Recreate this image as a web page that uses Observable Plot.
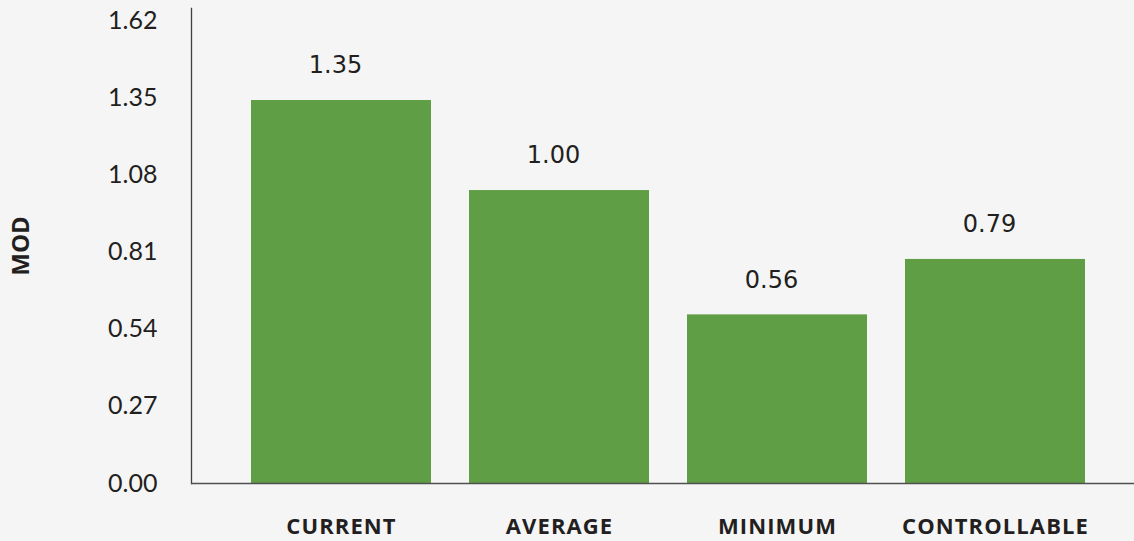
<!DOCTYPE html>
<html>
<head>
<meta charset="utf-8">
<script src="https://cdn.jsdelivr.net/npm/d3@7"></script>
<script src="https://cdn.jsdelivr.net/npm/@observablehq/plot@0.6"></script>
<style>
  html, body { margin: 0; padding: 0; background: #f5f5f5; }
  #chart svg { display: block; background: #f5f5f5; }
</style>
</head>
<body>
<div id="chart"></div>
<script>
// Data
const categories = ["CURRENT", "AVERAGE", "MINIMUM", "CONTROLLABLE"];
const barValues = [1.34, 1.025, 0.59, 0.784];       // bar heights as drawn
const valueLabels = ["1.35", "1.00", "0.56", "0.79"]; // labels printed above bars
const yTicks = [0, 0.27, 0.54, 0.81, 1.08, 1.35, 1.62];
const yLabel = "MOD";

const rows = categories.map((c, i) => ({cat: c, value: barValues[i], label: valueLabels[i]}));

const chart = Plot.plot({
  width: 1134,
  height: 541,
  marginTop: 8,
  marginBottom: 58,
  marginLeft: 191,
  marginRight: 0,
  style: {background: "#f5f5f5", color: "#231f20"},
  x: {domain: categories, paddingInner: 0.1755, paddingOuter: 0.2476, align: 0.546},
  y: {domain: [0, 1.662]},
  marks: [
    Plot.barY(rows, {x: "cat", y: "value", fill: "#5f9e44"}),
    Plot.axisY({
      ticks: yTicks, tickSize: 0, tickPadding: 34,
      tickFormat: d => d.toFixed(2),
      fontSize: 25, fontFamily: "Lato", fill: "#231f20",
      label: null
    }),
    Plot.axisX({
      tickSize: 0, tickPadding: 35,
      fontSize: 22, fontFamily: "Open Sans", fontWeight: "bold", fill: "#231f20",
      label: null
    }),
    Plot.frame({anchor: "left", stroke: "#404040", strokeWidth: 1.3}),
    Plot.ruleY([0], {stroke: "#505050", strokeWidth: 1.3}),
    Plot.text([yLabel], {
      frameAnchor: "left", dx: -170, rotate: -90,
      textAnchor: "middle", lineAnchor: "middle",
      fontSize: 24, fontFamily: "Open Sans", fontWeight: "bold", fill: "#231f20"
    }),
    Plot.text(rows, {
      x: "cat", y: "value", text: "label",
      dy: -35, dx: -6, lineAnchor: "middle",
      fontSize: 24, fontFamily: "DejaVu Sans", fill: "#231f20"
    })
  ]
});

document.getElementById("chart").appendChild(chart);

d3.select(chart).selectAll("[aria-label='x-axis tick label'] text")
  .style("letter-spacing", "1.1px");
</script>
</body>
</html>
